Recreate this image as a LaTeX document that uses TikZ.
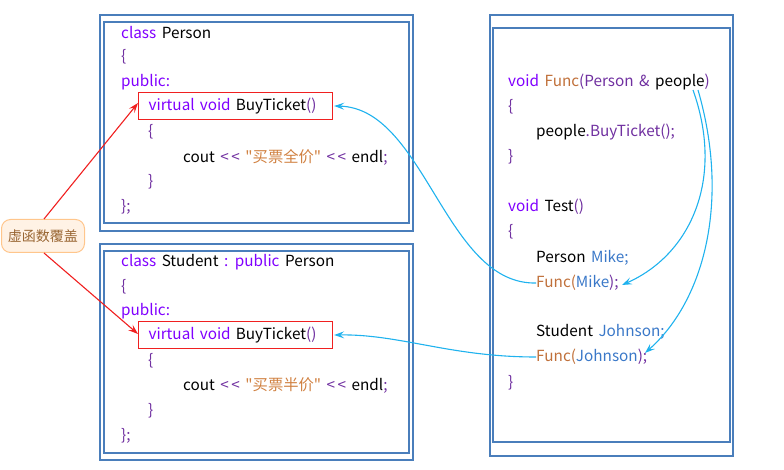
\documentclass[tikz,border=0pt]{standalone}
\usepackage{fontspec}
\setmainfont{Noto Sans CJK SC}[WordSpace=1.6]
\newfontfamily\plainf{Noto Sans CJK SC}[WordSpace=1.6]
\usetikzlibrary{arrows.meta}
\definecolor{kw}{HTML}{8000FF}
\definecolor{pu}{HTML}{7030A0}
\definecolor{st}{HTML}{D08040}
\definecolor{fn}{HTML}{C0703A}
\definecolor{vb}{HTML}{3A78C8}
\definecolor{frame}{HTML}{4A7EBB}
\definecolor{cy}{HTML}{1FB2EE}
\definecolor{rd}{HTML}{F02020}
\tikzset{
  code/.style={anchor=west, inner sep=0pt, font=\fontsize{15.3}{17}\selectfont},
  frameline/.style={draw=frame, line width=1.3pt},
  redbox/.style={draw=rd, line width=1.2pt, anchor=west, inner ysep=0pt, inner xsep=10pt, text width=174pt, minimum height=27pt, font=\fontsize{15.3}{17}\selectfont},
  bluearr/.style={draw=cy, line width=1.1pt, -{Stealth[length=10pt,width=7pt,inset=4pt]}},
  redarr/.style={draw=rd, line width=1.1pt, -{Stealth[length=10pt,width=7pt,inset=4pt]}},
  callout/.style={draw=orange!45, line width=1pt, fill=orange!10, rounded corners=9pt, minimum width=83pt, minimum height=33pt, inner sep=0pt, text=brown!80!black, font=\fontsize{14}{16}\selectfont}
}
\begin{document}
\begin{tikzpicture}[x=1pt,y=-1pt]
\useasboundingbox (0,0) rectangle (784,470);
% frames
\draw[frameline] (100,15) rectangle (413,231);
\draw[frameline] (104,22) rectangle (409,223);
\draw[frameline] (100,244) rectangle (413,460);
\draw[frameline] (104,251) rectangle (409,453);
\draw[frameline] (490,15) rectangle (733,456);
\draw[frameline] (493,28) rectangle (730,442);
% Person class
\node[code] (p1) at (121,33) {\textcolor{kw}{class} Person};
\node[code] (p2) at (121,57) {\textcolor{pu}{\{}};
\node[code] (p3) at (121,82) {\textcolor{kw}{public:}};
\node[redbox] (rb1) at (138,106) {\textcolor{kw}{virtual void} BuyTicket\textcolor{pu}{()}};
\node[code] (p5) at (148,132) {\textcolor{pu}{\{}};
\node[code] (p6) at (183,157) {cout \textcolor{pu}{<\,<} \textcolor{st}{\plainf "买票全价"} \textcolor{pu}{<\,<} endl\textcolor{pu}{;}};
\node[code] (p7) at (148,182) {\textcolor{pu}{\}}};
\node[code] (p8) at (121,207) {\textcolor{pu}{\};}};
% Student class
\node[code] (s1) at (121,262) {\textcolor{kw}{class} Student \textcolor{kw}{: public} Person};
\node[code] (s2) at (121,287) {\textcolor{pu}{\{}};
\node[code] (s3) at (121,311) {\textcolor{kw}{public:}};
\node[redbox] (rb2) at (138,335) {\textcolor{kw}{virtual void} BuyTicket\textcolor{pu}{()}};
\node[code] (s5) at (148,361) {\textcolor{pu}{\{}};
\node[code] (s6) at (183,386) {cout \textcolor{pu}{<\,<} \textcolor{st}{\plainf "买票半价"} \textcolor{pu}{<\,<} endl\textcolor{pu}{;}};
\node[code] (s7) at (148,411) {\textcolor{pu}{\}}};
\node[code] (s8) at (121,436) {\textcolor{pu}{\};}};
% Right code
\node[code] (f1) at (508,82) {\textcolor{kw}{void} \textcolor{fn}{Func}\textcolor{pu}{(Person \&} people\textcolor{pu}{)}};
\node[code] (f2) at (508,107) {\textcolor{pu}{\{}};
\node[code] (f3) at (536,132) {people\textcolor{pu}{.BuyTicket();}};
\node[code] (f4) at (508,157) {\textcolor{pu}{\}}};
\node[code] (t1) at (508,207) {\textcolor{kw}{void} Test\textcolor{pu}{()}};
\node[code] (t2) at (508,232) {\textcolor{pu}{\{}};
\node[code] (t3) at (536,258) {Person \textcolor{vb}{Mike;}};
\node[code] (fm) at (536,283) {\textcolor{fn}{Func(}\textcolor{vb}{Mike}\textcolor{pu}{);}};
\node[code] (t5) at (536,332) {Student \textcolor{vb}{Johnson;}};
\node[code] (fj) at (536,357) {\textcolor{fn}{Func(}\textcolor{vb}{Johnson}\textcolor{pu}{);}};
\node[code] (t7) at (508,383) {\textcolor{pu}{\}}};
% callout
\node[callout] (co) at (43,236) {虚函数覆盖};
% red arrows
\coordinate (r1s) at (44,219);
\coordinate (r2s) at (44,253);
\draw[redarr] (r1s) -- ([yshift=3pt]rb1.west);
\draw[redarr] (r2s) -- ([yshift=1pt]rb2.west);
% blue arrows
\draw[bluearr] (fm.west) .. controls (445,285) and (425,108) .. ([xshift=1pt]rb1.east);
\draw[bluearr] (fj.west) .. controls (450,357) and (400,334) .. ([xshift=1pt]rb2.east);
\coordinate (pa) at (693,90);
\coordinate (pb) at (698,90);
\coordinate (ma) at (622,285);
\coordinate (ja) at (645,353);
\draw[bluearr] (pa) .. controls (725,180) and (690,255) .. (ma);
\draw[bluearr] (pb) .. controls (730,200) and (705,300) .. (ja);
\end{tikzpicture}
\end{document}
